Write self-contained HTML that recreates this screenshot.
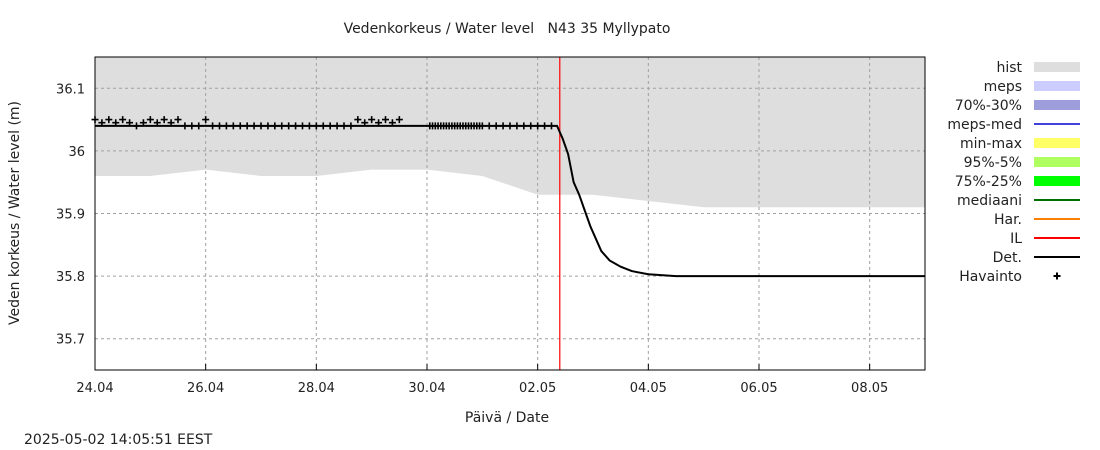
<!DOCTYPE html>
<html><head><meta charset="utf-8"><style>
body{margin:0;background:#fff;}
svg{display:block;font-family:"DejaVu Sans","Liberation Sans",sans-serif;}
text{white-space:pre;}
</style></head><body>
<svg id="c" width="1100" height="450" xmlns="http://www.w3.org/2000/svg">
<text x="507" y="33" font-size="14" text-anchor="middle" fill="#222" xml:space="preserve">Vedenkorkeus / Water level   N43 35 Myllypato</text>
<text x="507" y="422" font-size="14" text-anchor="middle" fill="#222">Päivä / Date</text>
<text x="19" y="213" font-size="14" text-anchor="middle" fill="#222" transform="rotate(-90 19 213)">Veden korkeus / Water level (m)</text>
<text x="24" y="444" font-size="14" fill="#222">2025-05-02 14:05:51 EEST</text>
<g id="plot"></g>
<g id="legend"></g>
</svg>
<script>
const xTickLabels=["24.04","26.04","28.04","30.04","02.05","04.05","06.05","08.05"];
const xTickDays=[0,2,4,6,8,10,12,14];
const yTicks=[35.7,35.8,35.9,36.0,36.1];
const yTickLabels=["35.7","35.8","35.9","36","36.1"];
const histDays=[0,1,2,3,4,5,6,7,8,9,10,11,12,13,14,15];
const histLow=[35.96,35.96,35.97,35.96,35.96,35.97,35.97,35.96,35.93,35.93,35.92,35.91,35.91,35.91,35.91,35.91];
const histHigh=36.15;
const obsDays=[0,0.125,0.25,0.375,0.5,0.625,0.75,0.875,1,1.125,1.25,1.375,1.5,1.625,1.75,1.875,2,2.125,2.25,2.375,2.5,2.625,2.75,2.875,3,3.125,3.25,3.375,3.5,3.625,3.75,3.875,4,4.125,4.25,4.375,4.5,4.625,4.75,4.875,5,5.125,5.25,5.375,5.5,
6.05,6.1,6.15,6.2,6.25,6.3,6.35,6.4,6.45,6.5,6.55,6.6,6.65,6.7,6.75,6.8,6.85,6.9,6.95,
7.0,7.125,7.25,7.375,7.5,7.625,7.75,7.875,8,8.125,8.25];
const obsVals=[36.05,36.045,36.05,36.045,36.05,36.045,36.04,36.045,36.05,36.045,36.05,36.045,36.05,36.04,36.04,36.04,36.05,36.04,36.04,36.04,36.04,36.04,36.04,36.04,36.04,36.04,36.04,36.04,36.04,36.04,36.04,36.04,36.04,36.04,36.04,36.04,36.04,36.04,36.05,36.045,36.05,36.045,36.05,36.045,36.05,
36.04,36.04,36.04,36.04,36.04,36.04,36.04,36.04,36.04,36.04,36.04,36.04,36.04,36.04,36.04,36.04,36.04,36.04,36.04,
36.04,36.04,36.04,36.04,36.04,36.04,36.04,36.04,36.04,36.04,36.04];
const detDays=[0,8.35,8.45,8.55,8.65,8.75,8.85,8.95,9.05,9.15,9.3,9.5,9.7,10.0,10.5,11,12,15];
const detVals=[36.04,36.04,36.02,35.995,35.95,35.93,35.905,35.88,35.86,35.84,35.825,35.815,35.808,35.803,35.8,35.8,35.8,35.8];
const ilDay=8.4;
const L=95,R=925,T=57,B=370,D0=0,D1=15,Y0=35.65,Y1=36.15;
const X=d=>L+(d-D0)/(D1-D0)*(R-L);
const Y=v=>B-(v-Y0)/(Y1-Y0)*(B-T);
const NS="http://www.w3.org/2000/svg";
function mk(p,t,a){const e=document.createElementNS(NS,t);for(const k in a)e.setAttribute(k,a[k]);p.appendChild(e);return e;}
const P=document.getElementById('plot');
let pts=histDays.map((d,i)=>X(d)+","+Y(histLow[i]));
pts.push(X(15)+","+Y(histHigh),X(0)+","+Y(histHigh));
const hb=mk(P,'polygon',{points:pts.join(" "),fill:"#dedede"});


xTickDays.forEach((d,i)=>{
 if(i>0){const g=mk(P,'line',{x1:X(d),x2:X(d),y1:T,y2:B,stroke:"#a0a0a0","stroke-dasharray":"3,3"});
 }
 const t=mk(P,'text',{x:X(d),y:B+22,"font-size":13,"text-anchor":"middle",fill:"#222"});t.textContent=xTickLabels[i];
 
 
 mk(P,'line',{x1:X(d),x2:X(d),y1:B,y2:B-6,stroke:"#000"});
});
yTicks.forEach((v,i)=>{
 const g=mk(P,'line',{x1:L,x2:R,y1:Y(v),y2:Y(v),stroke:"#a0a0a0","stroke-dasharray":"3,3"});
 
 const t=mk(P,'text',{x:L-10,y:Y(v)+5,"font-size":13,"text-anchor":"end",fill:"#222"});t.textContent=yTickLabels[i];
 
 
});
const il=mk(P,'line',{x1:X(ilDay),x2:X(ilDay),y1:T,y2:B,stroke:"#f00","stroke-width":1.2});


const dl=mk(P,'polyline',{points:detDays.map((d,i)=>X(d)+","+Y(detVals[i])).join(" "),fill:"none",stroke:"#000","stroke-width":2});


obsDays.forEach((d,i)=>{
 const x=X(d),y=Y(obsVals[i]);
 const o=mk(P,'path',{d:`M${x-3.5},${y}h7M${x},${y-3.5}v7`,stroke:"#000","stroke-width":1.6});
 
 
});
const fr=mk(P,'rect',{x:L,y:T,width:R-L,height:B-T,fill:"none",stroke:"#000"});


const legLabels=["hist","meps","70%-30%","meps-med","min-max","95%-5%","75%-25%","mediaani","Har.","IL","Det.","Havainto"];
const legColors=["#dedede","#ccccff","#9e9edc","#4040e0","#ffff66","#b0ff60","#00ff00","#007000","#ff8000","#ff0000","#000000","#000"];
const legType=["box","box","box","line","box","box","box","line","line","line","line","plus"];
const LG=document.getElementById('legend');
legLabels.forEach((lab,i)=>{
 const y=67+i*19;
 const g=mk(LG,'g',{});
 
 
 const t=mk(g,'text',{x:1022,y:y+5,"font-size":14,"text-anchor":"end",fill:"#222"});t.textContent=lab;
 if(legType[i]=="box")mk(g,'rect',{x:1034,y:y-5,width:46,height:10,fill:legColors[i]});
 else if(legType[i]=="line")mk(g,'line',{x1:1034,x2:1080,y1:y,y2:y,stroke:legColors[i],"stroke-width":2});
 else mk(g,'path',{d:`M1053.5,${y}h7M1057,${y-3.5}v7`,stroke:"#000","stroke-width":2});
});
</script>
</body></html>
